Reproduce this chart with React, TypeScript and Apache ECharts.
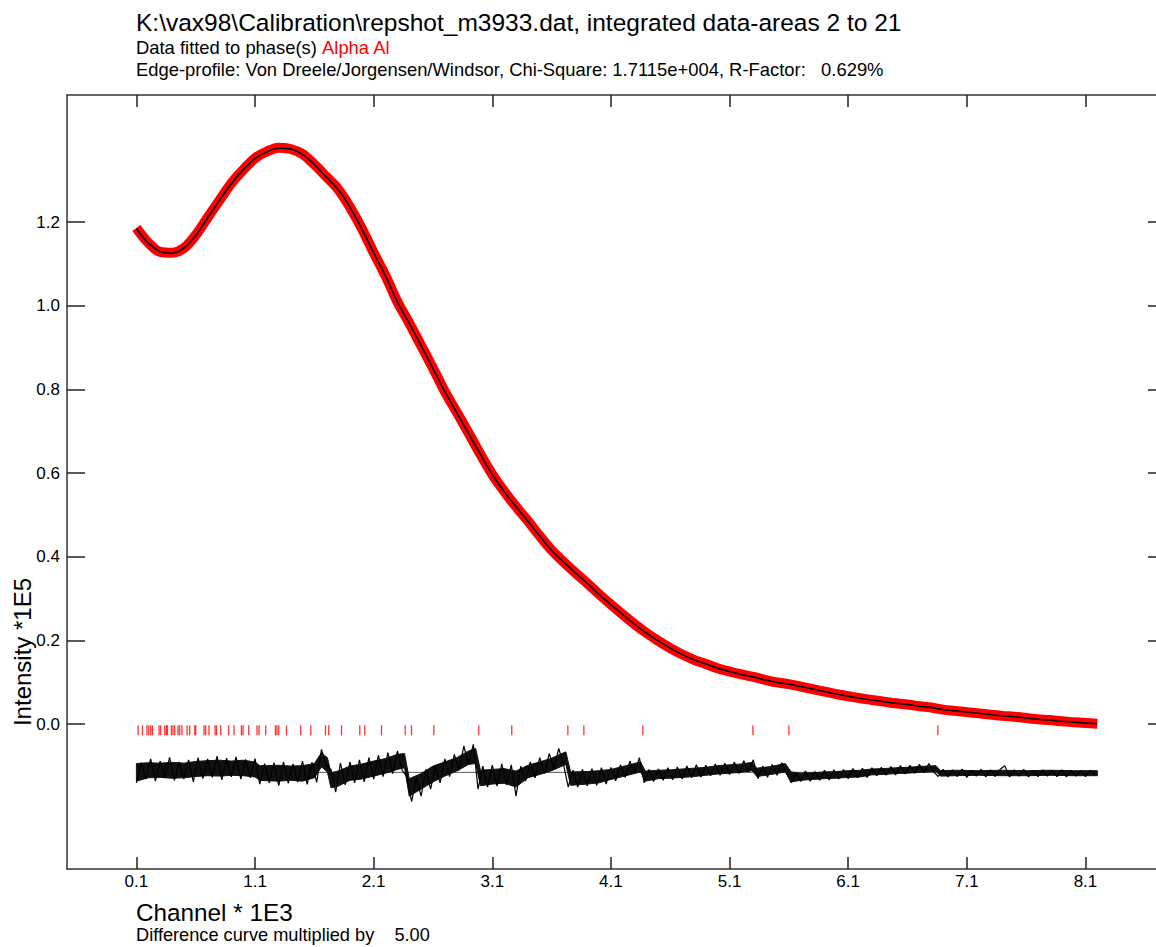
import React, { useEffect, useRef } from "react";
import * as echarts from "echarts";

const titleText = "K:\\vax98\\Calibration\\repshot_m3933.dat, integrated data-areas 2 to 21";
const fitPrefix = "Data fitted to phase(s) ";
const phaseName = "Alpha Al";
const statsText = "Edge-profile: Von Dreele/Jorgensen/Windsor, Chi-Square: 1.7115e+004, R-Factor:   0.629%";
const xAxisTitle = "Channel * 1E3";
const yAxisTitle = "Intensity *1E5";
const footNote = "Difference curve multiplied by    5.00";

const xTicks = [0.1, 1.1, 2.1, 3.1, 4.1, 5.1, 6.1, 7.1, 8.1];
const yTicks = [0, 0.2, 0.4, 0.6, 0.8, 1.0, 1.2];

// channel (x 1E3) of the profile samples
const profileChannels = [
  0.1, 0.2, 0.3, 0.4, 0.5, 0.6, 0.7, 0.8, 0.9, 1.0,
  1.1, 1.2, 1.3, 1.4, 1.5, 1.6, 1.7, 1.8, 1.9, 2.0,
  2.1, 2.2, 2.3, 2.4, 2.5, 2.6, 2.7, 2.8, 2.9, 3.0,
  3.1, 3.2, 3.3, 3.4, 3.5, 3.6, 3.7, 3.8, 3.9, 4.0,
  4.1, 4.2, 4.3, 4.4, 4.5, 4.6, 4.7, 4.8, 4.9, 5.0,
  5.1, 5.2, 5.3, 5.4, 5.5, 5.6, 5.7, 5.8, 5.9, 6.0,
  6.1, 6.2, 6.3, 6.4, 6.5, 6.6, 6.7, 6.8, 6.9, 7.0,
  7.1, 7.2, 7.3, 7.4, 7.5, 7.6, 7.7, 7.8, 7.9, 8.0,
  8.1, 8.2,
];

// calculated intensity (x 1E5)
const calcIntensity = [
  1.185, 1.150, 1.130, 1.126, 1.138, 1.168, 1.210, 1.252, 1.292, 1.325,
  1.352, 1.368, 1.377, 1.375, 1.362, 1.338, 1.308, 1.278, 1.236, 1.184,
  1.127, 1.071, 1.010, 0.958, 0.905, 0.850, 0.795, 0.745, 0.695, 0.645,
  0.597, 0.556, 0.520, 0.485, 0.450, 0.415, 0.388, 0.362, 0.337, 0.310,
  0.286, 0.262, 0.239, 0.218, 0.199, 0.182, 0.167, 0.154, 0.144, 0.134,
  0.126, 0.119, 0.113, 0.106, 0.100, 0.096, 0.090, 0.084, 0.078, 0.072,
  0.067, 0.062, 0.058, 0.054, 0.050, 0.047, 0.043, 0.040, 0.035, 0.032,
  0.029, 0.026, 0.023, 0.020, 0.018, 0.015, 0.012, 0.010, 0.007, 0.005,
  0.003, 0.001,
];

// observed intensity (x 1E5), coincides with the fit at this scale
const obsIntensity = [
  1.186, 1.151, 1.129, 1.127, 1.138, 1.169, 1.211, 1.252, 1.293, 1.325,
  1.353, 1.369, 1.378, 1.375, 1.363, 1.338, 1.309, 1.279, 1.236, 1.185,
  1.127, 1.072, 1.010, 0.959, 0.905, 0.851, 0.795, 0.746, 0.696, 0.645,
  0.597, 0.557, 0.520, 0.486, 0.450, 0.416, 0.388, 0.362, 0.337, 0.311,
  0.286, 0.262, 0.239, 0.218, 0.199, 0.182, 0.167, 0.154, 0.144, 0.134,
  0.126, 0.119, 0.113, 0.106, 0.100, 0.096, 0.090, 0.084, 0.078, 0.072,
  0.067, 0.062, 0.058, 0.054, 0.050, 0.047, 0.043, 0.040, 0.035, 0.032,
  0.029, 0.026, 0.023, 0.020, 0.018, 0.015, 0.012, 0.010, 0.007, 0.005,
  0.003, 0.001,
];

// Alpha Al reflection markers (channel x 1E3)
const reflectionChannels = [
  0.114, 0.151, 0.189, 0.204, 0.221, 0.235, 0.291, 0.305, 0.339, 0.353,
  0.361, 0.395, 0.409, 0.423, 0.451, 0.465, 0.484, 0.527, 0.549, 0.592,
  0.600, 0.670, 0.684, 0.712, 0.763, 0.775, 0.811, 0.878, 0.923, 0.985,
  0.999, 1.047, 1.117, 1.134, 1.190, 1.272, 1.285, 1.300, 1.365, 1.485,
  1.570, 1.694, 1.721, 1.829, 1.983, 2.025, 2.166, 2.366, 2.419, 2.607,
  2.986, 3.264, 3.737, 3.872, 4.369, 5.297, 5.600, 6.856,
];
const reflectionLevel = -0.0145;

// difference curve (x5, offset): dense core band of the noise
const diffBandChannels = [
  0.10, 0.20, 0.30, 0.40, 0.50, 0.60, 0.70, 0.80, 0.90, 1.00,
  1.10, 1.14, 1.20, 1.30, 1.40, 1.50, 1.60, 1.66, 1.71, 1.74,
  1.80, 1.90, 2.00, 2.10, 2.20, 2.30, 2.36, 2.40, 2.50, 2.60,
  2.70, 2.80, 2.90, 2.96, 3.00, 3.10, 3.20, 3.30, 3.40, 3.50,
  3.60, 3.72, 3.76, 3.90, 4.00, 4.10, 4.20, 4.35, 4.39, 4.50,
  4.60, 4.70, 4.80, 4.90, 5.00, 5.10, 5.20, 5.29, 5.33, 5.45,
  5.57, 5.62, 5.70, 5.80, 5.90, 6.00, 6.10, 6.20, 6.30, 6.40,
  6.50, 6.60, 6.70, 6.84, 6.88, 7.00, 7.20, 7.40, 7.60, 7.80,
  8.00, 8.20,
];
const diffCoreTop = [
  -0.094, -0.092, -0.093, -0.091, -0.093, -0.089, -0.087, -0.086, -0.088, -0.086,
  -0.090, -0.099, -0.099, -0.098, -0.100, -0.099, -0.094, -0.068, -0.080, -0.116,
  -0.112, -0.100, -0.095, -0.088, -0.082, -0.072, -0.070, -0.130, -0.118, -0.100,
  -0.090, -0.080, -0.064, -0.058, -0.110, -0.108, -0.106, -0.112, -0.098, -0.090,
  -0.081, -0.066, -0.114, -0.113, -0.111, -0.108, -0.101, -0.090, -0.112, -0.110,
  -0.109, -0.107, -0.105, -0.103, -0.099, -0.097, -0.095, -0.091, -0.105, -0.101,
  -0.094, -0.114, -0.117, -0.116, -0.114, -0.113, -0.111, -0.110, -0.107, -0.106,
  -0.104, -0.103, -0.101, -0.099, -0.111, -0.110, -0.111, -0.110, -0.111, -0.110,
  -0.111, -0.111,
];
const diffCoreBottom = [
  -0.136, -0.128, -0.127, -0.129, -0.128, -0.125, -0.123, -0.124, -0.122, -0.123,
  -0.126, -0.134, -0.135, -0.136, -0.134, -0.136, -0.128, -0.102, -0.114, -0.152,
  -0.148, -0.134, -0.131, -0.124, -0.117, -0.108, -0.104, -0.172, -0.155, -0.138,
  -0.124, -0.112, -0.096, -0.094, -0.147, -0.143, -0.141, -0.150, -0.128, -0.120,
  -0.111, -0.096, -0.146, -0.143, -0.140, -0.132, -0.125, -0.114, -0.136, -0.130,
  -0.129, -0.127, -0.125, -0.122, -0.119, -0.117, -0.115, -0.111, -0.125, -0.120,
  -0.114, -0.138, -0.134, -0.132, -0.130, -0.129, -0.127, -0.126, -0.121, -0.120,
  -0.118, -0.117, -0.115, -0.113, -0.124, -0.123, -0.122, -0.123, -0.123, -0.122,
  -0.123, -0.123,
];

// difference curve noise extremes, sampled every 0.04 channel from 0.10
const diffBaseline = -0.115;
const diffStart = 0.1;
const diffStep = 0.04;
const diffValues = [
  -0.140, -0.092, -0.131, -0.083, -0.136, -0.088, -0.128, -0.079, -0.134, -0.090,
  -0.131, -0.085, -0.138, -0.080, -0.130, -0.083, -0.127, -0.076, -0.133, -0.081,
  -0.126, -0.078, -0.131, -0.084, -0.128, -0.082, -0.143, -0.094, -0.140, -0.092,
  -0.147, -0.090, -0.141, -0.095, -0.138, -0.088, -0.144, -0.091, -0.139, -0.060,
  -0.098, -0.108, -0.162, -0.093, -0.145, -0.090, -0.140, -0.085, -0.138, -0.080,
  -0.131, -0.074, -0.125, -0.068, -0.118, -0.064, -0.110, -0.125, -0.185, -0.128,
  -0.172, -0.108, -0.155, -0.100, -0.140, -0.083, -0.125, -0.072, -0.110, -0.052,
  -0.095, -0.048, -0.155, -0.100, -0.150, -0.098, -0.148, -0.095, -0.145, -0.097,
  -0.172, -0.100, -0.136, -0.090, -0.128, -0.080, -0.118, -0.070, -0.106, -0.058,
  -0.096, -0.150, -0.110, -0.150, -0.108, -0.147, -0.106, -0.146, -0.104, -0.143,
  -0.103, -0.135, -0.097, -0.127, -0.088, -0.117, -0.080, -0.140, -0.108, -0.137,
  -0.107, -0.134, -0.104, -0.133, -0.102, -0.131, -0.100, -0.128, -0.097, -0.126,
  -0.098, -0.123, -0.095, -0.122, -0.093, -0.120, -0.090, -0.118, -0.087, -0.114,
  -0.085, -0.130, -0.100, -0.127, -0.096, -0.122, -0.092, -0.117, -0.140, -0.118,
  -0.137, -0.112, -0.136, -0.113, -0.134, -0.110, -0.133, -0.109, -0.131, -0.108,
  -0.130, -0.106, -0.128, -0.105, -0.127, -0.104, -0.123, -0.103, -0.122, -0.101,
  -0.121, -0.099, -0.119, -0.098, -0.117, -0.096, -0.115, -0.094, -0.114, -0.125,
  -0.108, -0.126, -0.109, -0.125, -0.107, -0.127, -0.110, -0.124, -0.108, -0.126,
  -0.109, -0.125, -0.108, -0.099, -0.126, -0.109, -0.124, -0.108, -0.126, -0.110,
  -0.125, -0.109, -0.124, -0.110, -0.125, -0.109, -0.126, -0.110, -0.124, -0.111,
  -0.125, -0.110, -0.122,
];

const FONT = "'Liberation Sans', Arial, Helvetica, sans-serif";

export default function App() {
  const ref = useRef<HTMLDivElement>(null);

  useEffect(() => {
    if (!ref.current) return;
    const chart = echarts.init(ref.current, undefined, { renderer: "svg" });

    const xMin = -0.485;
    const xMax = 8.779;
    const yMin = -0.346;
    const yMax = 1.504;

    const profileObs = profileChannels.map((c, i) => [c, obsIntensity[i]]);
    const profileCalc = profileChannels.map((c, i) => [c, calcIntensity[i]]);
    const reflections = reflectionChannels.map((c) => [c, reflectionLevel]);
    const diffData = diffValues.map((v, i) => [+(diffStart + i * diffStep).toFixed(3), v]);
    const lastDiffX = diffData[diffData.length - 1][0];
    const baseline = [
      [diffStart, diffBaseline],
      [lastDiffX, diffBaseline],
    ];

    const frameLine = { show: true, onZero: false, lineStyle: { color: "#333", width: 1.5 } };
    const tickStyle = { color: "#222", width: 1.5 };

    const option: any = {
      animation: false,
      backgroundColor: "#fff",
      textStyle: { fontFamily: FONT },
      grid: { left: 67, top: 95, right: 4, bottom: 78, containLabel: false },
      xAxis: [
        {
          type: "value",
          position: "bottom",
          min: xMin,
          max: xMax,
          axisLine: frameLine,
          splitLine: { show: false },
          axisTick: { show: true, inside: true, length: 12, customValues: xTicks, lineStyle: tickStyle },
          axisLabel: {
            show: true,
            customValues: xTicks,
            formatter: (v: number) => v.toFixed(1),
            fontSize: 17,
            color: "#000",
            margin: 4,
            fontFamily: FONT,
          },
        },
        {
          type: "value",
          position: "top",
          min: xMin,
          max: xMax,
          axisLine: frameLine,
          splitLine: { show: false },
          axisTick: { show: true, inside: true, length: 12, customValues: xTicks, lineStyle: tickStyle },
          axisLabel: { show: false },
        },
      ],
      yAxis: [
        {
          type: "value",
          position: "left",
          min: yMin,
          max: yMax,
          axisLine: frameLine,
          splitLine: { show: false },
          axisTick: { show: true, inside: true, length: 18, customValues: yTicks, lineStyle: tickStyle },
          axisLabel: {
            show: true,
            customValues: yTicks,
            formatter: (v: number) => v.toFixed(1),
            fontSize: 17,
            color: "#000",
            margin: 7,
            fontFamily: FONT,
          },
        },
        {
          type: "value",
          position: "right",
          min: yMin,
          max: yMax,
          axisLine: frameLine,
          splitLine: { show: false },
          axisTick: { show: true, inside: true, length: 18, customValues: yTicks, lineStyle: tickStyle },
          axisLabel: { show: false },
        },
      ],
      series: [
        {
          name: "Observed",
          type: "line",
          data: profileObs,
          showSymbol: false,
          symbol: "none",
          smooth: 0.35,
          lineStyle: { color: "#ff0000", width: 10 },
          z: 2,
        },
        {
          name: "Calculated",
          type: "line",
          data: profileCalc,
          showSymbol: false,
          symbol: "none",
          smooth: 0.35,
          lineStyle: { color: "#000", width: 1.5 },
          z: 3,
        },
        {
          name: "Reflections",
          type: "scatter",
          data: reflections,
          symbol: "rect",
          symbolSize: [1.3, 10],
          itemStyle: { color: "#ff0000" },
          z: 3,
        },
        {
          name: "Baseline",
          type: "line",
          data: baseline,
          showSymbol: false,
          symbol: "none",
          lineStyle: { color: "#555", width: 1 },
          z: 2,
        },
        {
          name: "DifferenceCore",
          type: "custom",
          data: [[diffStart, diffBaseline]],
          z: 3,
          renderItem: (_params: any, api: any) => {
            const pts: number[][] = [];
            for (let i = 0; i < diffBandChannels.length; i++) {
              pts.push(api.coord([diffBandChannels[i], diffCoreTop[i]]));
            }
            for (let i = diffBandChannels.length - 1; i >= 0; i--) {
              pts.push(api.coord([diffBandChannels[i], diffCoreBottom[i]]));
            }
            return {
              type: "polygon",
              shape: { points: pts },
              style: { fill: "#111", stroke: "#111", lineWidth: 1 },
            };
          },
        },
        {
          name: "Difference",
          type: "line",
          data: diffData,
          showSymbol: false,
          symbol: "none",
          lineStyle: { color: "#000", width: 1.2 },
          z: 4,
        },
      ],
      graphic: [
        {
          type: "text",
          left: 136,
          top: 10,
          style: { text: titleText, fontSize: 24.5, fontFamily: FONT, fill: "#000" },
        },
        {
          type: "text",
          left: 136,
          top: 38,
          style: {
            text: "{a|" + fitPrefix + "}{b|" + phaseName + "}",
            fontFamily: FONT,
            rich: {
              a: { fontSize: 18.4, fill: "#000", fontFamily: FONT },
              b: { fontSize: 18.4, fill: "#ff0000", fontFamily: FONT },
            },
          },
        },
        {
          type: "text",
          left: 136,
          top: 60,
          style: { text: statsText, fontSize: 18.4, fontFamily: FONT, fill: "#000" },
        },
        {
          type: "text",
          left: 136,
          top: 900,
          style: { text: xAxisTitle, fontSize: 24.3, fontFamily: FONT, fill: "#000" },
        },
        {
          type: "text",
          left: 136,
          top: 926,
          style: { text: footNote, fontSize: 18.2, fontFamily: FONT, fill: "#000" },
        },
        {
          type: "text",
          x: 22,
          y: 652,
          rotation: Math.PI / 2,
          style: {
            text: yAxisTitle,
            fontSize: 24,
            fontFamily: FONT,
            fill: "#000",
            align: "center",
            verticalAlign: "middle",
          },
        },
      ],
    };

    chart.setOption(option);
    return () => chart.dispose();
  }, []);

  return (
    <div style={{ position: "absolute", left: 0, top: 0, width: 1156, height: 947, overflow: "hidden", background: "#fff" }}>
      <div ref={ref} style={{ width: 1170, height: 947 }} />
    </div>
  );
}
